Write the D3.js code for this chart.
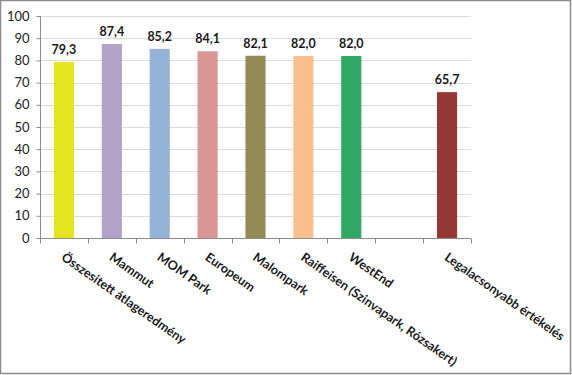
<!DOCTYPE html>
<html><head><meta charset="utf-8">
<script src="https://cdn.jsdelivr.net/npm/d3@7"></script>
<style>body{margin:0;background:#fff;} svg{display:block;}</style>
</head><body>
<svg id="c" width="572" height="375"></svg>
<script>
const categories = ["Összesitett átlageredmény","Mammut","MOM Park","Europeum","Malompark","Raiffeisen (Szinvapark, Rózsakert)","WestEnd","","Legalacsonyabb értékelés"];
const values = [79.3, 87.4, 85.2, 84.1, 82.1, 82.0, 82.0, null, 65.7];
const colors = ["#e4e520","#b3a2c7","#95b3d7","#d99694","#948a54","#fac090","#2fa864","none","#953735"];
const yTicks = [0,10,20,30,40,50,60,70,80,90,100];

const svg = d3.select("#c");
svg.append("rect").attr("x",0.5).attr("y",0.5).attr("width",570).attr("height",373)
  .attr("fill","#fff").attr("stroke","#8c8c8c").attr("stroke-width",1.5);

const x = d3.scaleBand().domain(d3.range(categories.length)).range([40,471]).paddingInner(0.58).paddingOuter(0.29);
const y = d3.scaleLinear().domain([0,100]).range([238,16]);
const font = "Lato, 'Open Sans', sans-serif";

// grid
svg.append("g").selectAll("line").data(yTicks.slice(1)).join("line")
  .attr("x1",40).attr("x2",471).attr("y1",d=>Math.round(y(d))+0.5).attr("y2",d=>Math.round(y(d))+0.5)
  .attr("stroke","#dcdcdc");

// bars
svg.append("g").selectAll("rect").data(values.map((v,i)=>({v,i})).filter(d=>d.v!==null)).join("rect")
  .attr("x",d=>x(d.i)).attr("width",x.bandwidth())
  .attr("y",d=>y(d.v)).attr("height",d=>y(0)-y(d.v))
  .attr("fill",d=>colors[d.i]);

// value labels
svg.append("g").selectAll("text").data(values.map((v,i)=>({v,i})).filter(d=>d.v!==null)).join("text")
  .attr("x",d=>x(d.i)+x.bandwidth()/2).attr("y",d=>y(d.v)-8)
  .attr("text-anchor","middle").attr("font-family",font).attr("font-weight","bold")
  .attr("font-size","12.5px").attr("fill","#1a1a1a")
  .text(d=>d3.format(".1f")(d.v).replace(".",","));

// y axis
const ya = svg.append("g").attr("transform","translate(40.5,0)")
  .call(d3.axisLeft(y).tickValues(yTicks).tickSize(4).tickPadding(7).tickFormat(d3.format("d")));
ya.select(".domain").attr("stroke","#8c8c8c").attr("d","M0,16V238.5");
ya.selectAll(".tick line").attr("stroke","#8c8c8c");
ya.selectAll("text").attr("font-family",font).attr("font-size","13px").attr("fill","#222");

// x axis
const step = x.step();
const xa = svg.append("g").attr("transform","translate(0,238.5)");
xa.append("line").attr("x1",40).attr("x2",471).attr("stroke","#8c8c8c");
xa.selectAll(".t").data(d3.range(categories.length+1)).join("line")
  .attr("x1",i=>Math.round(40+i*step)+0.5).attr("x2",i=>Math.round(40+i*step)+0.5)
  .attr("y1",0).attr("y2",5).attr("stroke","#8c8c8c");
xa.selectAll("text").data(categories).join("text")
  .attr("transform",(d,i)=>`translate(${x(i)+x.bandwidth()/2+2},13) rotate(35)`)
  .attr("dy","0.75em").attr("font-family",font).attr("font-weight","bold")
  .attr("font-size","12.6px").attr("fill","#1a1a1a").text(d=>d);
</script>
</body></html>
